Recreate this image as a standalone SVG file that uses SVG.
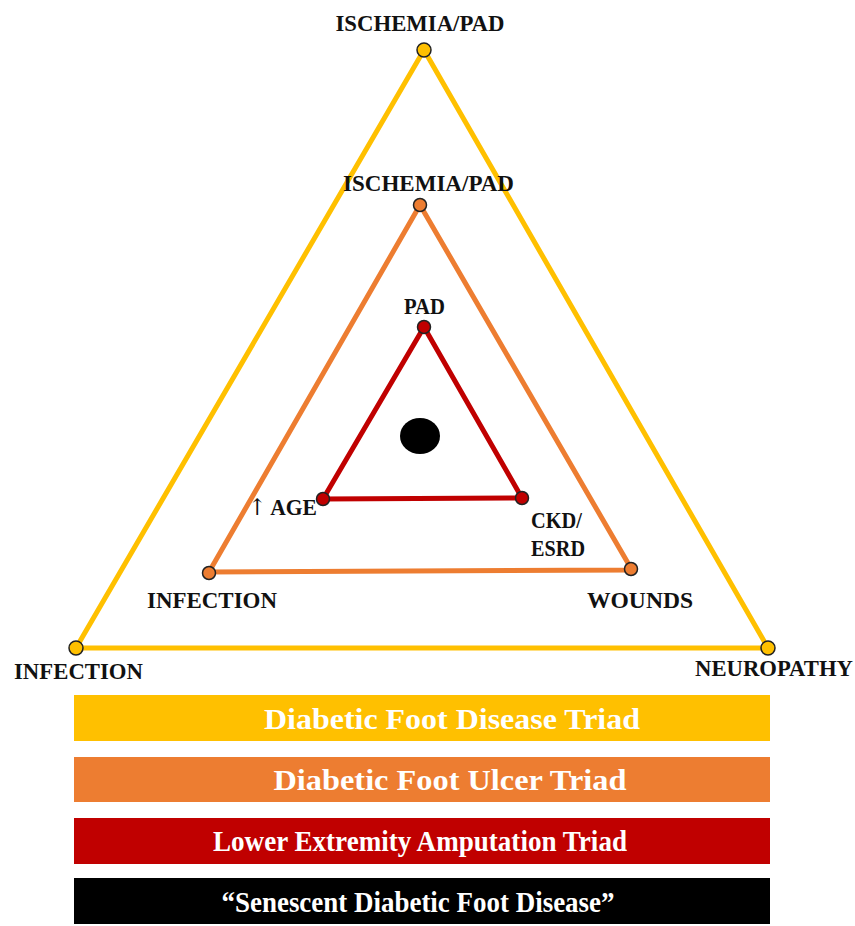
<svg xmlns="http://www.w3.org/2000/svg" width="855" height="926" viewBox="0 0 855 926">
<style>
.lbl{font-family:"Liberation Serif","Times New Roman",serif;font-weight:bold;font-size:23px;fill:#111}
.bar{font-family:"Liberation Serif","Times New Roman",serif;font-weight:bold;font-size:30px;fill:#fff}
.edge{fill:none;stroke-width:5;stroke-linejoin:round}
.dot{stroke:#222;stroke-width:1.5}
.arr{font-family:"DejaVu Serif","DejaVu Sans",serif;font-weight:normal;fill:#111}
</style>
<rect width="855" height="926" fill="#fff"/>
<g id="connectors">
<path class="edge" stroke="#FFC000" d="M424,50 L76,648 L768,648 Z"/>
<path class="edge" stroke="#ED7D31" d="M420,205 L209,572 L632,570 Z"/>
<path class="edge" stroke="#C00000" d="M424,327 L323,499 L522,498 Z"/>
</g>
<g id="outer-top"><circle class="dot" cx="424" cy="50" r="7" fill="#FFC000"/><text class="lbl" x="420" y="31" text-anchor="middle" textLength="169" lengthAdjust="spacingAndGlyphs">ISCHEMIA/PAD</text></g>
<g id="outer-left"><circle class="dot" cx="76" cy="648" r="7" fill="#FFC000"/><text class="lbl" x="14" y="679" textLength="129" lengthAdjust="spacingAndGlyphs">INFECTION</text></g>
<g id="outer-right"><circle class="dot" cx="768" cy="648" r="7" fill="#FFC000"/><text class="lbl" x="695" y="676" textLength="158" lengthAdjust="spacingAndGlyphs">NEUROPATHY</text></g>
<g id="mid-top"><circle class="dot" cx="420" cy="205" r="6.5" fill="#ED7D31"/><text class="lbl" x="343" y="191" textLength="171" lengthAdjust="spacingAndGlyphs">ISCHEMIA/PAD</text></g>
<g id="mid-left"><circle class="dot" cx="209" cy="573" r="6.5" fill="#ED7D31"/><text class="lbl" x="147" y="608" textLength="130" lengthAdjust="spacingAndGlyphs">INFECTION</text></g>
<g id="mid-right"><circle class="dot" cx="631" cy="569" r="6.5" fill="#ED7D31"/><text class="lbl" x="587" y="608" textLength="106" lengthAdjust="spacingAndGlyphs">WOUNDS</text></g>
<g id="inner-top"><circle class="dot" cx="424" cy="327" r="6.5" fill="#C00000"/><text class="lbl" x="404" y="314" textLength="41" lengthAdjust="spacingAndGlyphs">PAD</text></g>
<g id="inner-left"><circle class="dot" cx="323" cy="499" r="6.5" fill="#C00000"/><text class="lbl" x="248" y="515" textLength="69" lengthAdjust="spacingAndGlyphs"><tspan class="arr">↑</tspan> AGE</text></g>
<g id="inner-right"><circle class="dot" cx="522" cy="498" r="6.5" fill="#C00000"/><text class="lbl" x="531" y="528" textLength="51" lengthAdjust="spacingAndGlyphs">CKD/</text><text class="lbl" x="531" y="556" textLength="54" lengthAdjust="spacingAndGlyphs">ESRD</text></g>
<g id="center"><ellipse cx="420" cy="436" rx="20" ry="18" fill="#000"/></g>
<g id="legend-1"><rect x="74" y="695" width="696" height="46" fill="#FFC000"/><text class="bar" x="452" y="729" text-anchor="middle" textLength="376" lengthAdjust="spacingAndGlyphs">Diabetic Foot Disease Triad</text></g>
<g id="legend-2"><rect x="74" y="757" width="696" height="45" fill="#ED7D31"/><text class="bar" x="450" y="790" text-anchor="middle" textLength="353" lengthAdjust="spacingAndGlyphs">Diabetic Foot Ulcer Triad</text></g>
<g id="legend-3"><rect x="74" y="818" width="696" height="46" fill="#C00000"/><text class="bar" x="420" y="851" text-anchor="middle" textLength="414" lengthAdjust="spacingAndGlyphs">Lower Extremity Amputation Triad</text></g>
<g id="legend-4"><rect x="74" y="878" width="696" height="46" fill="#000"/><text class="bar" x="418" y="912" text-anchor="middle" textLength="393" lengthAdjust="spacingAndGlyphs">“Senescent Diabetic Foot Disease”</text></g>
</svg>
